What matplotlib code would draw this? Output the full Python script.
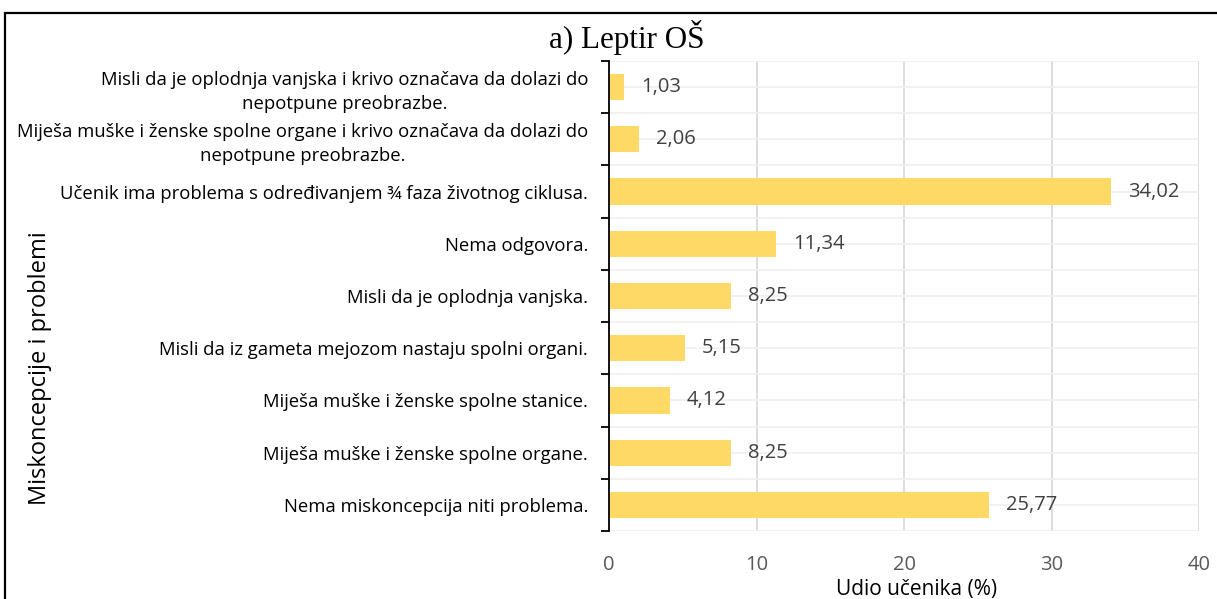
import matplotlib
matplotlib.use("Agg")
import matplotlib.pyplot as plt
from matplotlib.patches import Rectangle
import numpy as np

categories = [
    "Misli da je oplodnja vanjska i krivo označava da dolazi do\nnepotpune preobrazbe.",
    "Miješa muške i ženske spolne organe i krivo označava da dolazi do\nnepotpune preobrazbe.",
    "Učenik ima problema s određivanjem ¾ faza životnog ciklusa.",
    "Nema odgovora.",
    "Misli da je oplodnja vanjska.",
    "Misli da iz gameta mejozom nastaju spolni organi.",
    "Miješa muške i ženske spolne stanice.",
    "Miješa muške i ženske spolne organe.",
    "Nema miskoncepcija niti problema.",
]
values = [1.03, 2.06, 34.02, 11.34, 8.25, 5.15, 4.12, 8.25, 25.77]
xticks = [0, 10, 20, 30, 40]

W, H = 1217, 599
fig = plt.figure(figsize=(W / 100, H / 100), dpi=100)
font = ["Open Sans", "DejaVu Sans"]

ax = fig.add_axes([609 / W, 1 - 531 / H, (1199 - 609) / W, (531 - 61) / H])
n = len(categories)
y = np.arange(n)[::-1]
ax.barh(y, values, height=0.5, color="#FFD966", zorder=3)
ax.set_xlim(0, 40)
ax.set_ylim(-0.5, n - 0.5)
ax.set_xticks(xticks)
ax.set_xticklabels([str(t) for t in xticks], fontsize=14.5, color="#595959", family=font)
ax.tick_params(axis="x", length=0, pad=17.5)
ax.set_yticks(np.arange(n + 1) - 0.5)
ax.set_yticklabels([])
ax.set_yticks(y, minor=True)
ax.set_yticklabels(categories, minor=True, fontsize=13.3, family=font, color="black",
                   linespacing=1.4)
ax.tick_params(axis="y", which="major", length=6, width=1.3, direction="out", color="black")
ax.tick_params(axis="y", which="minor", length=0, pad=15)
for lbl in ax.get_yticklabels(minor=True):
    lbl.set_multialignment("center")

for s in ["top", "right", "bottom"]:
    ax.spines[s].set_visible(False)
ax.spines["left"].set_linewidth(1.3)
ax.spines["left"].set_zorder(4)

for xv in xticks[1:]:
    ax.axvline(xv, color="#D9D9D9", lw=1.3, zorder=1)
for yv in np.arange(n + 1) - 0.5:
    ax.axhline(yv, color="#F0F0F0", lw=1.3, zorder=1)
for yv in y:
    ax.axhline(yv, color="#F0F0F0", lw=1.3, zorder=1)

for yi, v in zip(y, values):
    ax.text(v + 1.15, yi, f"{v:.2f}".replace(".", ","), va="center", ha="left",
            fontsize=14.5, color="#404040", family=font, zorder=5)

ax.set_xlabel("Udio učenika (%)", fontsize=15, family=font)
ax.xaxis.set_label_coords((917 - 609) / (1199 - 609), -(595 - 531) / (531 - 61))
ax.xaxis.label.set_verticalalignment("baseline")

fig.text(627 / W, 1 - 48 / H, "a) Leptir OŠ", ha="center", va="baseline",
         fontsize=22.4, family=["Liberation Serif", "DejaVu Serif"])
fig.text(40 / W, 1 - 368 / H, "Miskoncepcije i problemi", rotation=90,
         ha="center", va="center", fontsize=17, family=font)

fig.add_artist(Rectangle((5 / W, -0.1), 1.2, 1 - 13 / H + 0.1, transform=fig.transFigure,
                         fill=False, edgecolor="black", lw=1.6))

fig.savefig("out.png", dpi=100)
